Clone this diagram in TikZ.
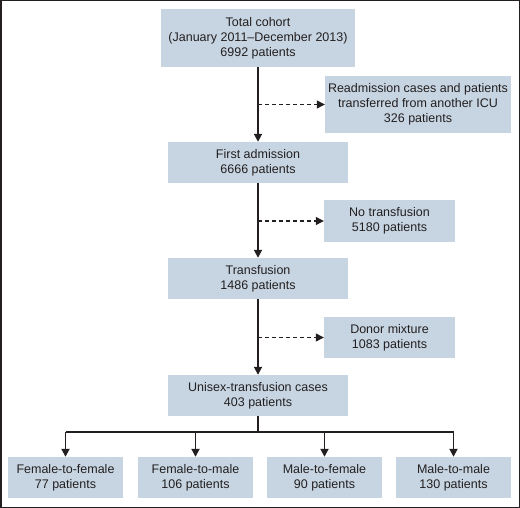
\documentclass[tikz,border=0pt]{standalone}
\usepackage{fontspec}
\setmainfont{Liberation Sans}
\usepackage{tikz}
\usetikzlibrary{arrows.meta}
\definecolor{boxblue}{RGB}{199,213,226}
\definecolor{inkgray}{RGB}{35,31,32}
\newcommand{\flowbox}[6]{\node[fill=boxblue, text=inkgray, minimum width=#4pt, minimum height=#5pt, inner sep=0pt, align=center, font=\fontsize{12.5}{15}\selectfont] (#1) at ( #2 , #3 ) {#6};}
\tikzset{
    mainarrow/.style={line width=1.8pt, draw=inkgray, -{Triangle[length=8pt,width=8pt]}},
    sidearrow/.style={line width=1.2pt, draw=inkgray, dash pattern=on 4pt off 3pt, -{Triangle[length=8pt,width=8pt]}}
}

\begin{document}
\begin{tikzpicture}[x=1pt, y=-1pt]
        \useasboundingbox (0,0) rectangle (520,508);
        \draw[line width=1.5pt, draw=inkgray] (0.75,0.75) rectangle (519.25,507.25);
        % main column
        \flowbox{total}{258}{38}{194}{58}{Total cohort\\(January 2011--December 2013)\\6992 patients}
        \flowbox{first}{258}{162.5}{180}{41}{First admission\\6666 patients}
        \flowbox{transf}{258}{278.5}{180}{41}{Transfusion\\1486 patients}
        \flowbox{unisex}{258}{395.5}{180}{41}{Unisex-transfusion cases\\403 patients}
        % excluded
        \flowbox{readm}{418}{104.5}{186}{57}{Readmission cases and patients\\transferred from another ICU\\326 patients}
        \flowbox{notr}{389.5}{221}{131}{42}{No transfusion\\5180 patients}
        \flowbox{donor}{389.5}{337.5}{131}{41}{Donor mixture\\1083 patients}
        % subgroups
        \flowbox{ff}{65.5}{477.5}{115}{41}{Female-to-female\\77 patients}
        \flowbox{fm}{195.5}{477.5}{115}{41}{Female-to-male\\106 patients}
        \flowbox{mf}{324.5}{477.5}{115}{41}{Male-to-female\\90 patients}
        \flowbox{mm}{453.5}{477.5}{115}{41}{Male-to-male\\130 patients}
        % arrows down
        \draw[mainarrow] (total.south) -- (first.north);
        \draw[mainarrow] (first.south) -- (transf.north);
        \draw[mainarrow] (transf.south) -- (unisex.north);
        % arrows aside
        \draw[sidearrow] (readm.west -| total.south) -- (readm.west);
        \draw[sidearrow] (notr.west -| first.south) -- (notr.west);
        \draw[sidearrow] (donor.west -| transf.south) -- (donor.west);
        % split
        \coordinate (split) at (258,432);
        \draw[line width=1.8pt, draw=inkgray] (unisex.south) -- (split);
        \draw[line width=1.8pt, draw=inkgray] (split -| ff.north) -- (split -| mm.north);
        \foreach \k in {ff,fm,mf,mm}
            \draw[mainarrow] (split -| \k.north) -- (\k.north);
\end{tikzpicture}
\end{document}
